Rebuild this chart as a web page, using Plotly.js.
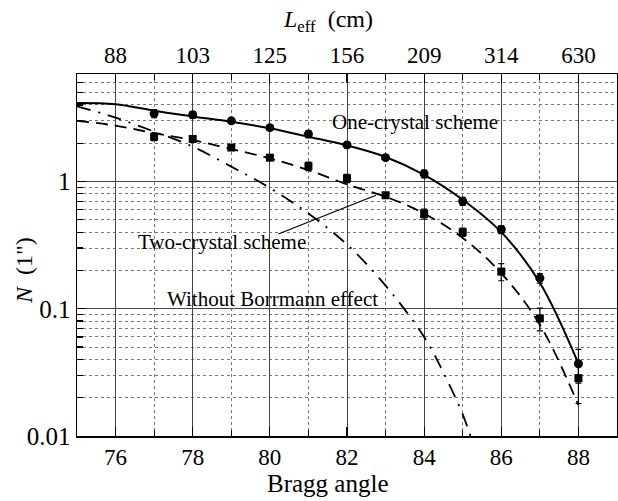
<!DOCTYPE html>
<html>
<head>
<meta charset="utf-8">
<script src="https://cdn.plot.ly/plotly-3.0.1.min.js"></script>
<style>
html,body{margin:0;padding:0;background:#fff;}
#chart{width:618px;height:501px;}
</style>
</head>
<body>
<div id="chart"></div>
<script>
// Measured points
const braggPts = [77, 78, 79, 80, 81, 82, 83, 84, 85, 86, 87, 88];
const oneCrystalPts = [3.42, 3.35, 3.0, 2.65, 2.36, 1.94, 1.54, 1.15, 0.70, 0.42, 0.174, 0.037];
const oneCrystalErr = [0.25, 0.2, 0.12, 0.1, 0.15, 0.1, 0.05, 0.08, 0.05, 0.03, 0.015, 0.011];
const twoCrystalPts = [2.25, 2.16, 1.85, 1.54, 1.32, 1.06, 0.78, 0.556, 0.40, 0.196, 0.084, 0.0285];
const twoCrystalErr = [0.15, 0.1, 0.08, 0.07, 0.1, 0.08, 0.04, 0.05, 0.03, 0.03, 0.017, 0.0105];

// Curves
const curveX = [75, 76, 77, 78, 79, 80, 81, 82, 83, 84, 85, 86, 87, 88];
const oneCrystalCurve = [4.15, 4.05, 3.6, 3.25, 2.95, 2.62, 2.25, 1.92, 1.56, 1.13, 0.72, 0.40, 0.16, 0.037];
const twoCrystalCurve = [3.0, 2.75, 2.4, 2.12, 1.8, 1.52, 1.23, 0.95, 0.76, 0.56, 0.36, 0.19, 0.075, 0.0175];
const noBorrmannX = [75, 75.57, 76, 77, 78, 79, 80, 81, 82, 83, 84, 84.5, 85, 85.2];
const noBorrmannY = [3.9, 3.49, 3.18, 2.47, 1.88, 1.31, 0.89, 0.56, 0.32, 0.152, 0.06, 0.0315, 0.0148, 0.01];

// Axis labels
const bottomTicks = [76, 78, 80, 82, 84, 86, 88];
const topTickText = ['88', '103', '125', '156', '209', '314', '630'];
const yTicks = [0.01, 0.1, 1];
const yTickText = ['0.01', '0.1', '1'];

// Pointer from "Two-crystal scheme" label to the curve
const pointerX = [80.22, 82.75];
const pointerY = [0.387, 0.78];

const minorY = [];
[0.01, 0.1, 1].forEach(d => { for (let k = 2; k <= 9; k++) { const v = d * k; if (v <= 7.01) minorY.push(+v.toPrecision(3)); } });
const oddX = [75, 77, 79, 81, 83, 85, 87, 89];

const FONT = 'Liberation Serif, Times New Roman, serif';

const traces = [
  {x: curveX, y: oneCrystalCurve, mode: 'lines', line: {color: '#000', width: 2, shape: 'spline'}, hoverinfo: 'skip'},
  {x: curveX, y: twoCrystalCurve, mode: 'lines', line: {color: '#000', width: 1.8, dash: '12px,7px', shape: 'spline'}, hoverinfo: 'skip'},
  {x: noBorrmannX, y: noBorrmannY, mode: 'lines', line: {color: '#000', width: 1.8, dash: '14px,8px,2px,8px', shape: 'spline'}, hoverinfo: 'skip'},
  {x: pointerX, y: pointerY, mode: 'lines', line: {color: '#000', width: 1.3}, hoverinfo: 'skip'},
  {x: braggPts, y: oneCrystalPts, mode: 'markers', marker: {symbol: 'circle', size: 9, color: '#000'},
   error_y: {type: 'data', array: oneCrystalErr, color: '#000', thickness: 1.2, width: 3}},
  {x: braggPts, y: twoCrystalPts, mode: 'markers', marker: {symbol: 'square', size: 8, color: '#000'},
   error_y: {type: 'data', array: twoCrystalErr, color: '#000', thickness: 1.2, width: 3}},
  {x: [75], y: [1], xaxis: 'x2', mode: 'markers', marker: {opacity: 0}, hoverinfo: 'skip'}
];

const layout = {
  width: 618, height: 501,
  margin: {l: 77, r: 1, t: 74, b: 65},
  paper_bgcolor: '#fff', plot_bgcolor: '#fff',
  showlegend: false,
  font: {family: FONT, size: 21, color: '#000'},
  xaxis: {
    range: [75, 89], tickvals: bottomTicks, ticktext: bottomTicks.map(String),
    ticks: 'inside', ticklen: 9, tickwidth: 1.2, tickcolor: '#000',
    showline: true, linecolor: '#000', linewidth: 1.5, mirror: false,
    showgrid: true, gridcolor: '#444', gridwidth: 1,
    minor: {tickvals: oddX, ticks: 'inside', ticklen: 6, tickcolor: '#000', showgrid: true, gridcolor: '#777', griddash: 'dot', gridwidth: 1},
    zeroline: false,
    tickfont: {family: FONT, size: 23}
  },
  xaxis2: {
    overlaying: 'x', side: 'top', range: [75, 89],
    tickvals: bottomTicks, ticktext: topTickText,
    ticks: 'inside', ticklen: 9, tickwidth: 1.2, tickcolor: '#000',
    minor: {tickvals: oddX, ticks: 'inside', ticklen: 6, tickcolor: '#000', showgrid: false},
    showline: true, linecolor: '#000', linewidth: 1.5,
    showgrid: false, zeroline: false,
    tickfont: {family: FONT, size: 23}
  },
  yaxis: {
    type: 'log', range: [-2, Math.log10(7)],
    tickvals: yTicks, ticktext: yTickText,
    ticks: 'inside', ticklen: 9, tickwidth: 1.2, tickcolor: '#000',
    showline: true, linecolor: '#000', linewidth: 1.5, mirror: true,
    showgrid: true, gridcolor: '#444', gridwidth: 1,
    minor: {tickvals: minorY, ticks: 'inside', ticklen: 6, tickcolor: '#000', showgrid: true, gridcolor: '#777', griddash: 'dot', gridwidth: 1},
    zeroline: false,
    tickfont: {family: FONT, size: 25}
  },
  annotations: [
    {xref: 'paper', yref: 'paper', x: (328 - 77) / 541, y: 1, yshift: 53, text: '<i>L</i><sub>eff</sub>  (cm)', showarrow: false, font: {family: FONT, size: 24}, xanchor: 'center', yanchor: 'middle'},
    {xref: 'paper', yref: 'paper', x: (328 - 77) / 541, y: 0, yshift: -47, text: 'Bragg angle', showarrow: false, font: {family: FONT, size: 25}, xanchor: 'center', yanchor: 'middle'},
    {xref: 'paper', yref: 'paper', x: 0, xshift: -53, y: (436.5 - 271) / 363, text: '<i>N</i>  (1")', textangle: -90, showarrow: false, font: {family: FONT, size: 24}, xanchor: 'center', yanchor: 'middle'},
    {x: 83.75, y: Math.log10(2.93), xref: 'x', yref: 'y', text: 'One-crystal scheme', showarrow: false, font: {family: FONT, size: 21}, xanchor: 'center', yanchor: 'middle'},
    {x: 78.75, y: Math.log10(0.335), xref: 'x', yref: 'y', text: 'Two-crystal scheme', showarrow: false, font: {family: FONT, size: 21}, xanchor: 'center', yanchor: 'middle'},
    {x: 80.07, y: Math.log10(0.1), xref: 'x', yref: 'y', text: 'Without Borrmann effect', showarrow: false, font: {family: FONT, size: 21}, xanchor: 'center', yanchor: 'bottom', yshift: -4}
  ]
};

Plotly.newPlot('chart', traces, layout, {staticPlot: true, displayModeBar: false});
</script>
</body>
</html>
